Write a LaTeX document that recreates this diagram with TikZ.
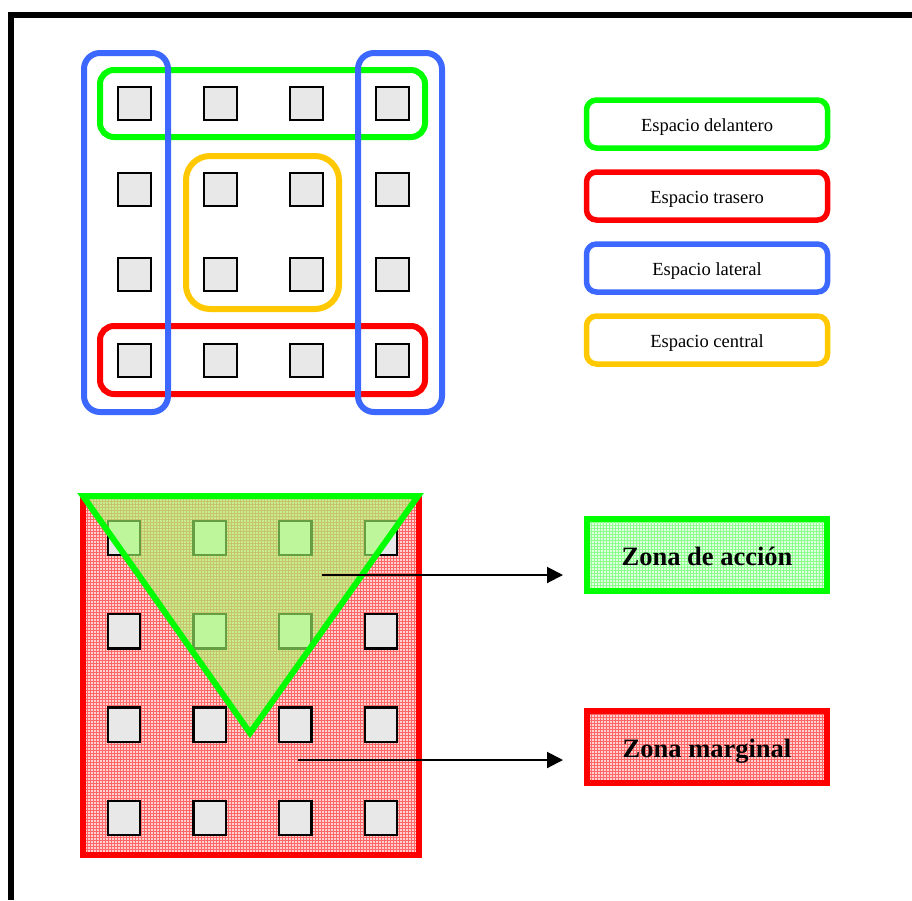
\documentclass[tikz,border=0pt]{standalone}
\usepackage{fontspec}
\setmainfont{Liberation Serif}
\usetikzlibrary{patterns,arrows.meta}
\definecolor{spgreen}{RGB}{0,255,0}
\definecolor{spred}{RGB}{255,0,0}
\definecolor{spblue}{RGB}{60,104,255}
\definecolor{spyellow}{RGB}{255,200,0}
\definecolor{seatgray}{RGB}{232,232,232}
\definecolor{actiontint}{RGB}{165,255,110}
\begin{document}
\begin{tikzpicture}[x=1pt,y=-1pt,
  seat/.style={draw=black, fill=seatgray, line width=1.8pt, minimum width=33pt, minimum height=33pt, inner sep=0},
  seatlow/.style={seat, line width=2.4pt, minimum height=34.5pt, minimum width=32.5pt},
  zone/.style={line width=6pt, rounded corners=14pt},
  legend/.style={draw, line width=5.5pt, rounded corners=10pt, minimum width=241pt, minimum height=48pt, inner sep=0, text height=14pt, text depth=0pt, font=\fontsize{18.5}{22}\selectfont},
  zonebox/.style={draw, line width=6pt, minimum width=240pt, minimum height=72pt, inner sep=0, text height=21.4pt, text depth=0pt, font=\bfseries\fontsize{26.5}{30}\selectfont},
  pointer/.style={line width=2pt, -{Triangle[length=16pt,width=16pt]}}
]
\useasboundingbox (0,0) rectangle (912,900);

% page frame
\draw[line width=6pt] (11,900) -- (11,15) -- (912,15);

% ---------- upper classroom: seats and spaces ----------
\foreach \r in {1,...,4}
  \foreach \c in {1,...,4}
    \node[seat] (t\r\c) at ({134.5+86*(\c-1)},{103.5+85.67*(\r-1)}) {};

\draw[zone, spgreen] (100,70) rectangle (425,137);
\draw[zone, spred] (100,326) rectangle (425,394);
\draw[zone, spyellow, rounded corners=24pt] (186,156) rectangle (339,309);
\draw[zone, spblue, rounded corners=16pt] (84,53) rectangle (168,412);
\draw[zone, spblue, rounded corners=16pt] (358,53) rectangle (442,412);

% legend
\node[legend, draw=spgreen]  (front)   at (707,124) {Espacio delantero};
\node[legend, draw=spred]    (back)    at (707,196) {Espacio trasero};
\node[legend, draw=spblue]   (side)    at (707,268) {Espacio lateral};
\node[legend, draw=spyellow] (middle)  at (707,340) {Espacio central};

% ---------- lower classroom: action and marginal zones ----------
\path[fill=red!18] (83,496) rectangle (419,855);
\path[pattern=grid, pattern color=red!60] (83,496) rectangle (419,855);
\draw[spred, line width=6pt] (83,496) rectangle (419,855);

\foreach \r in {1,...,4}
  \foreach \c in {1,...,4}
    \node[seatlow] (b\r\c) at ({124+85.67*(\c-1)},{538+93.33*(\r-1)}) {};

\path[fill=actiontint, fill opacity=0.62] (83,496) -- (418,496) -- (250,733) -- cycle;
\draw[spgreen, line width=6pt, line join=miter] (83,496) -- (418,496) -- (250,733) -- cycle;

\node[zonebox, draw=spgreen, preaction={fill=green!12}, pattern=grid, pattern color=green!45] (action) at (707,555) {Zona de acción};
\node[zonebox, draw=spred, preaction={fill=red!18}, pattern=grid, pattern color=red!60] (margin) at (707,747) {Zona marginal};

\coordinate (acttail) at (322,575);
\coordinate (martail) at (298,760);
\draw[pointer] (acttail) -- ([xshift=-21pt]acttail -| action.west);
\draw[pointer] (martail) -- ([xshift=-21pt]martail -| margin.west);
\end{tikzpicture}
\end{document}
